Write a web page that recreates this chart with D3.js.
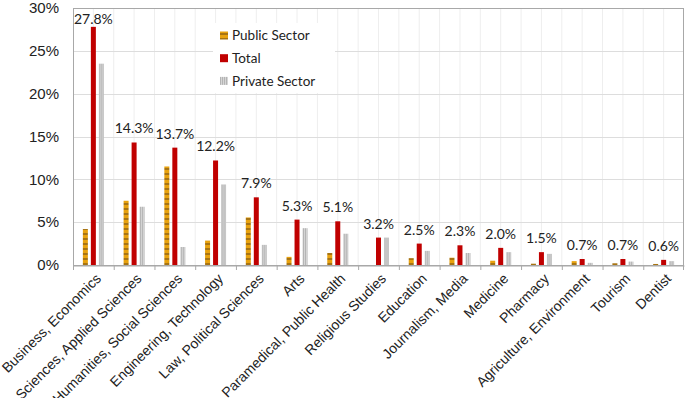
<!DOCTYPE html>
<html>
<head>
<meta charset="utf-8">
<script src="https://cdn.jsdelivr.net/npm/d3@7"></script>
<style>
  body { margin: 0; background: #fff; }
  svg { display: block; }
</style>
</head>
<body>
<svg id="chart" width="688" height="398"></svg>
<script>
// data (percent of graduates)
const categories = [
  "Business, Economics", "Sciences, Applied Sciences", "Humanities, Social Sciences",
  "Engineering, Technology", "Law, Political Sciences", "Arts", "Paramedical, Public Health",
  "Religious Studies", "Education", "Journalism, Media", "Medicine", "Pharmacy",
  "Agriculture, Environment", "Tourism", "Dentist"
];
const publicSector  = [4.2, 7.5, 11.5, 2.85, 5.55, 0.95, 1.4, 0, 0.8, 0.85, 0.5, 0.15, 0.45, 0.2, 0.12];
const total         = [27.8, 14.3, 13.7, 12.2, 7.9, 5.3, 5.1, 3.2, 2.5, 2.3, 2.0, 1.5, 0.7, 0.7, 0.6];
const privateSector = [23.5, 6.8, 2.1, 9.4, 2.35, 4.3, 3.65, 3.2, 1.65, 1.4, 1.5, 1.3, 0.25, 0.4, 0.45];
const seriesNames = ["Public Sector", "Total", "Private Sector"];
const yTicks = [0, 5, 10, 15, 20, 25, 30];

const svg = d3.select("#chart");
const margin = {left: 73, right: 4, top: 8, bottom: 133};
const W = 688, H = 398;
const x0 = margin.left, x1 = W - margin.right, yTop = margin.top, yBot = H - margin.bottom;

const x = d3.scaleBand().domain(categories).range([x0, x1]);
const xs = d3.scaleBand().domain(seriesNames).range([-10.5, 10.5]).paddingInner(0.375);
const y = d3.scaleLinear().domain([0, 30]).range([yBot, yTop]);

// fill patterns
const defs = svg.append("defs");
const pub = defs.append("pattern").attr("id", "pubPat")
  .attr("patternUnits", "userSpaceOnUse").attr("width", 6).attr("height", 5);
pub.append("rect").attr("width", 6).attr("height", 5).attr("fill", "#e8a20e");
pub.append("rect").attr("y", 3).attr("width", 6).attr("height", 2).attr("fill", "#a87412");
const priv = defs.append("pattern").attr("id", "privPat")
  .attr("patternUnits", "userSpaceOnUse").attr("width", 2).attr("height", 4);
priv.append("rect").attr("width", 2).attr("height", 4).attr("fill", "#d6d6d6");
priv.append("rect").attr("width", 1).attr("height", 4).attr("fill", "#b4b4b4");

const fills = {"Public Sector": "url(#pubPat)", "Total": "#c00000", "Private Sector": "url(#privPat)"};
const valuesBySeries = {"Public Sector": publicSector, "Total": total, "Private Sector": privateSector};

// vertical gridlines at every half band
const vLines = [];
categories.forEach(c => { vLines.push(x(c)); vLines.push(x(c) + x.bandwidth() / 2); });
svg.append("g").selectAll("line").data(vLines.slice(1)).join("line")
  .attr("x1", d => d).attr("x2", d => d).attr("y1", yTop).attr("y2", yBot)
  .attr("stroke", "#eeeeee").attr("stroke-width", 1);

// horizontal gridlines
svg.append("g").selectAll("line").data(yTicks.slice(1)).join("line")
  .attr("x1", x0).attr("x2", x1).attr("y1", d => Math.round(y(d)) + 0.5).attr("y2", d => Math.round(y(d)) + 0.5)
  .attr("stroke", "#dddddd").attr("stroke-width", 1);

// plot border
svg.append("rect").attr("x", x0 + 0.5).attr("y", yTop + 0.5)
  .attr("width", x1 - x0 - 1).attr("height", yBot - yTop)
  .attr("fill", "none").attr("stroke", "#a8a8a8");

// legend box (white, covers grid)
const legend = svg.append("g");
legend.append("rect").attr("x", 213).attr("y", 23).attr("width", 122).attr("height", 70).attr("fill", "#fff");
seriesNames.forEach((s, i) => {
  const cy = 35.5 + i * 22.7;
  legend.append("rect").attr("x", 220).attr("y", cy - 4).attr("width", 8).attr("height", 8).attr("fill", fills[s]);
  legend.append("text").attr("x", 232).attr("y", cy).attr("dy", "0.35em")
    .attr("font-family", "Lato, 'Open Sans', sans-serif").attr("font-size", 13.5).attr("fill", "#222")
    .text(s);
});

// bars
const groups = svg.append("g").selectAll("g").data(categories).join("g")
  .attr("transform", d => `translate(${x(d) + x.bandwidth() / 2},0)`);
groups.selectAll("rect")
  .data((c, i) => seriesNames.map(s => ({s: s, v: valuesBySeries[s][i]})))
  .join("rect")
  .attr("x", d => xs(d.s))
  .attr("width", xs.bandwidth())
  .attr("y", d => y(d.v))
  .attr("height", d => yBot - y(d.v))
  .attr("fill", d => fills[d.s]);

// value labels on total (kept inside the plot area)
groups.append("text")
  .attr("x", xs("Total") + xs.bandwidth() / 2)
  .attr("y", (c, i) => Math.max(y(total[i]) - 9, yTop + 16))
  .attr("text-anchor", "middle")
  .attr("font-family", "Lato, 'Open Sans', sans-serif").attr("font-size", 14).attr("fill", "#222")
  .text((c, i) => total[i].toFixed(1) + "%");

// y axis
const yAxis = svg.append("g").attr("transform", `translate(${x0},0)`)
  .call(d3.axisLeft(y).tickValues(yTicks).tickFormat(d => d + "%").tickSize(0).tickPadding(14));
yAxis.select(".domain").attr("stroke", "#a8a8a8");
yAxis.selectAll("text").attr("font-family", "'Liberation Sans', Arial, sans-serif").attr("font-size", 15).attr("fill", "#222");

// x axis
const xAxis = svg.append("g").attr("transform", `translate(0,${yBot + 0.5})`)
  .call(d3.axisBottom(x).tickSize(0).tickFormat(""));
xAxis.select(".domain").attr("stroke", "#a8a8a8");
svg.append("g").selectAll("line").data(categories.map(c => x(c)).concat([x1 - 1])).join("line")
  .attr("x1", d => d + 0.5).attr("x2", d => d + 0.5).attr("y1", yBot).attr("y2", yBot + 5)
  .attr("stroke", "#a8a8a8");

svg.append("g").selectAll("text").data(categories).join("text")
  .attr("transform", d => `translate(${x(d) + x.bandwidth() / 2 + 5},${yBot + 11}) rotate(-45)`)
  .attr("text-anchor", "end")
  .attr("dy", "0.35em")
  .attr("font-family", "'Liberation Sans', Arial, sans-serif").attr("font-size", 14).attr("fill", "#222")
  .text(d => d);
</script>
</body>
</html>
